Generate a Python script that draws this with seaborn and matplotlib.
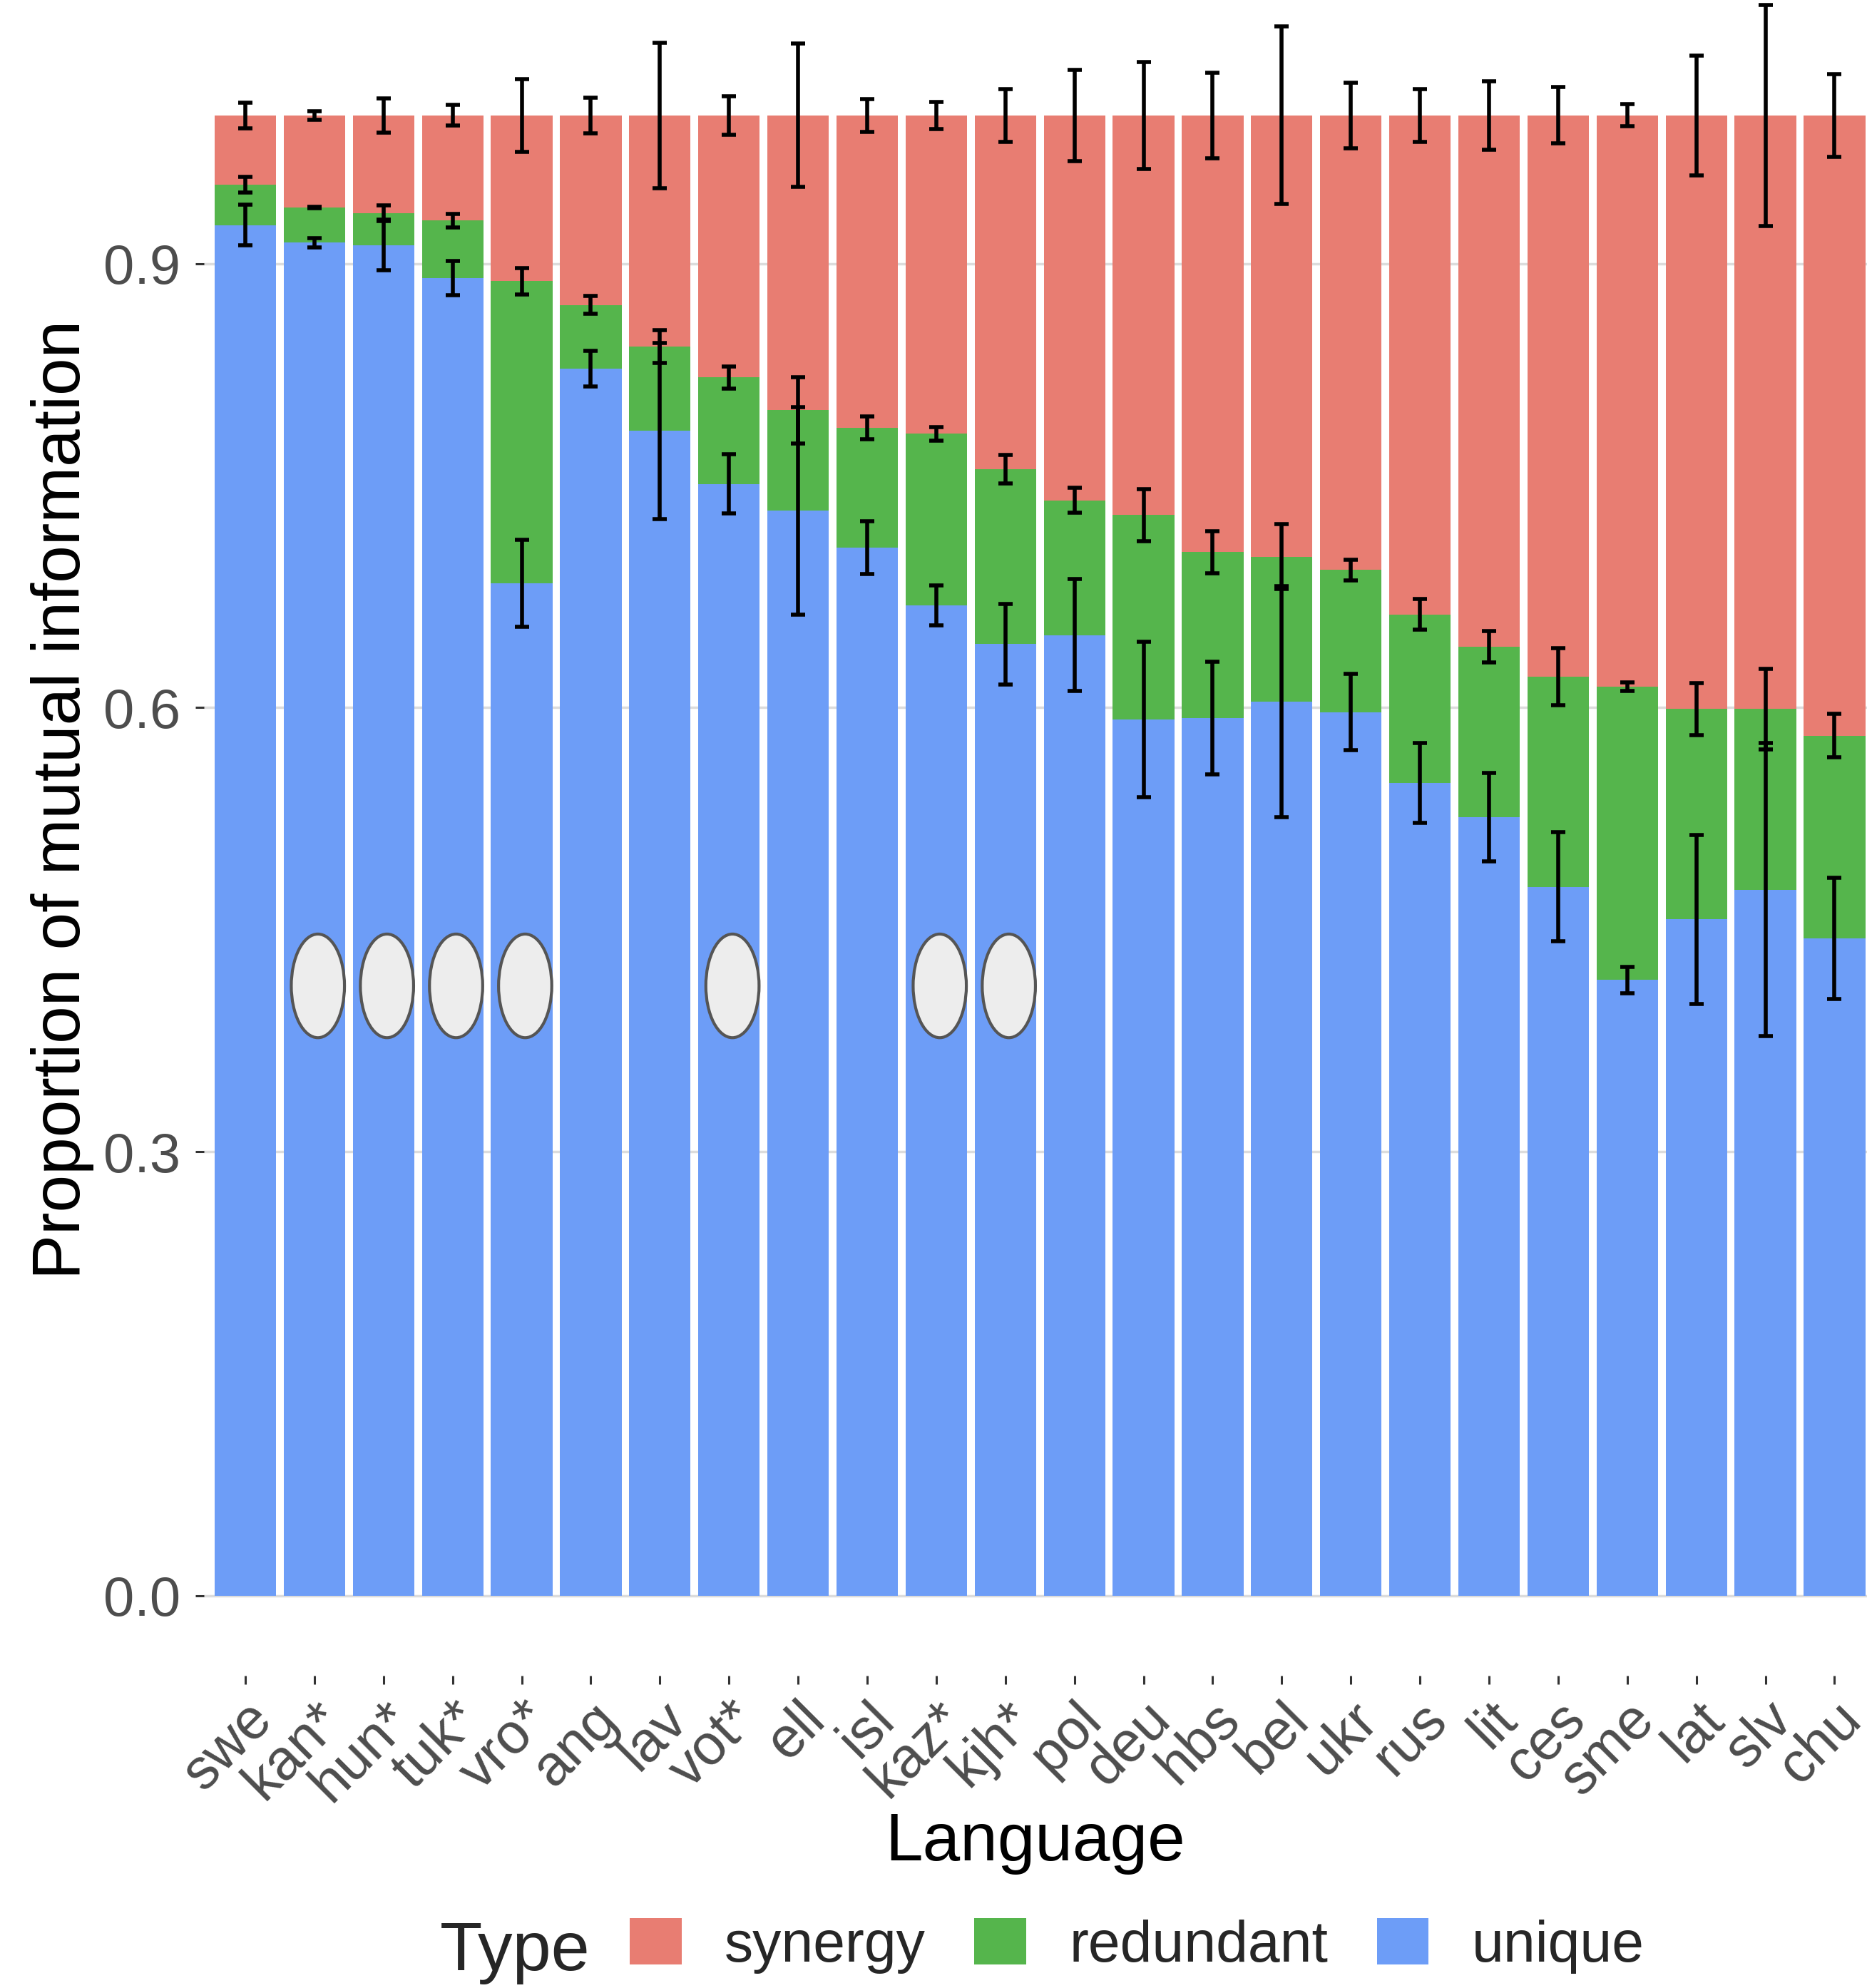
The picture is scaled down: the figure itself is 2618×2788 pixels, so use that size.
import numpy as np
import pandas as pd
import matplotlib
matplotlib.use('Agg')
import matplotlib.pyplot as plt
import matplotlib.transforms as mtransforms
from matplotlib.patches import Patch, Ellipse
import seaborn as sns

# ------------------------------------------------------------
# data
# ------------------------------------------------------------
languages = ['swe', 'kan*', 'hun*', 'tuk*', 'vro*', 'ang', 'lav', 'vot*', 'ell', 'isl',
             'kaz*', 'kjh*', 'pol', 'deu', 'hbs', 'bel', 'ukr', 'rus', 'lit', 'ces',
             'sme', 'lat', 'slv', 'chu']

unique = [0.926, 0.914, 0.9125, 0.890, 0.684, 0.829, 0.787, 0.751, 0.733, 0.708,
          0.669, 0.643, 0.649, 0.592, 0.593, 0.604, 0.597, 0.549, 0.526, 0.479,
          0.416, 0.457, 0.477, 0.444]
redundant = [0.027, 0.024, 0.0215, 0.039, 0.204, 0.043, 0.057, 0.072, 0.068, 0.081,
             0.116, 0.118, 0.091, 0.138, 0.112, 0.098, 0.096, 0.114, 0.115, 0.142,
             0.198, 0.142, 0.122, 0.137]
synergy = [0.047, 0.062, 0.066, 0.071, 0.112, 0.128, 0.156, 0.177, 0.199, 0.211,
           0.215, 0.239, 0.260, 0.270, 0.295, 0.298, 0.307, 0.337, 0.359, 0.379,
           0.386, 0.401, 0.401, 0.419]

# half-widths of the error bars
unique_err = [0.0139, 0.0032, 0.017, 0.0116, 0.0292, 0.012, 0.0595, 0.020, 0.070, 0.018,
              0.0134, 0.0272, 0.038, 0.0527, 0.0379, 0.078, 0.0256, 0.027, 0.030, 0.037,
              0.009, 0.057, 0.099, 0.041]
redundant_err = [0.0053, 0.0005, 0.0055, 0.0047, 0.009, 0.006, 0.011, 0.0076, 0.0224, 0.0075,
                 0.0046, 0.0096, 0.0084, 0.0174, 0.0143, 0.022, 0.0069, 0.0102, 0.0105, 0.0193,
                 0.003, 0.0176, 0.0272, 0.0148]
synergy_err = [0.0088, 0.003, 0.0117, 0.007, 0.0245, 0.012, 0.049, 0.013, 0.0484, 0.011,
               0.009, 0.018, 0.031, 0.036, 0.029, 0.060, 0.022, 0.018, 0.023, 0.019,
               0.0075, 0.0405, 0.0746, 0.028]

type_labels = ['synergy', 'redundant', 'unique']
type_colors = {'synergy': '#E87D72', 'redundant': '#55B54C', 'unique': '#6D9DF7'}

# ------------------------------------------------------------
# stacked positions
# ------------------------------------------------------------
df = pd.DataFrame({'Language': languages, 'unique': unique,
                   'redundant': redundant, 'synergy': synergy})
df['top_unique'] = df['unique']
df['top_redundant'] = df['unique'] + df['redundant']
df['top_synergy'] = df['top_redundant'] + df['synergy']

# ------------------------------------------------------------
# plot
# ------------------------------------------------------------
sns.set_style('white')
plt.rcParams['font.family'] = ['Liberation Sans', 'DejaVu Sans']

fig = plt.figure(figsize=(26.18, 27.88), dpi=100)
ax = fig.add_axes([0.1092, 0.1571, 0.8908, 0.8429])

# draw totals first, then cover with the lower stacks
for col, name in [('top_synergy', 'synergy'), ('top_redundant', 'redundant'), ('top_unique', 'unique')]:
    sns.barplot(data=df, x='Language', y=col, order=languages, color=type_colors[name],
                saturation=1, width=0.89, errorbar=None, linewidth=0, ax=ax, zorder=2)

xpos = np.arange(len(languages))
for col, err in [('top_synergy', synergy_err), ('top_redundant', redundant_err), ('top_unique', unique_err)]:
    ax.errorbar(xpos, df[col], yerr=err, fmt='none', ecolor='black',
                elinewidth=4, capsize=7, capthick=4, zorder=4)

# grey ovals over the starred languages
for i, lang in enumerate(languages):
    if lang.endswith('*'):
        ax.add_patch(Ellipse((i + 0.05, 0.412), width=0.77, height=0.07,
                             facecolor='#EDEDED', edgecolor='#555555', linewidth=3, zorder=5))

ax.set_xlim(-0.6, 23.47)
ax.set_ylim(-0.054, 1.078)
ax.set_yticks([0.0, 0.3, 0.6, 0.9])
ax.set_yticklabels(['0.0', '0.3', '0.6', '0.9'])
ax.set_xticks(xpos)
ax.set_xticklabels(languages, rotation=45, ha='right', va='top', rotation_mode='anchor')

# nudge the rotated labels a little left so the last one stays inside the figure
shift = mtransforms.ScaledTranslation(-0.07, 0, fig.dpi_scale_trans)
for lbl in ax.get_xticklabels():
    lbl.set_transform(lbl.get_transform() + shift)

ax.grid(axis='y', color='#DCDCDC', linewidth=2.5, zorder=0)
ax.grid(axis='x', visible=False)
ax.set_axisbelow(True)
for s in ax.spines.values():
    s.set_visible(False)

ax.tick_params(axis='both', which='major', length=8.6, width=2.2, color='#333333',
               labelcolor='#4D4D4D')
ax.tick_params(axis='y', pad=15, left=True, labelsize=56)
ax.tick_params(axis='x', pad=8, bottom=True, labelsize=57)

ax.set_ylabel('Proportion of mutual information', fontsize=68, color='black')
ax.yaxis.set_label_coords(-0.066, 0.523)
ax.set_xlabel('Language', fontsize=68, color='black', va='top')
ax.xaxis.set_label_coords(0.5, -0.081)

# legend at the bottom
handles = [Patch(facecolor=type_colors[t], edgecolor='none') for t in type_labels]
fig.legend(handles, type_labels, ncol=3, loc='center', bbox_to_anchor=(0.609, 0.0212),
           frameon=False, fontsize=58, handlelength=0.9, handleheight=0.86,
           handletextpad=0.75, columnspacing=0.85)
fig.text(617 / 2618, 0.018, 'Type', fontsize=70, ha='left', va='center')

plt.savefig('out.png', dpi=100)
plt.close()
